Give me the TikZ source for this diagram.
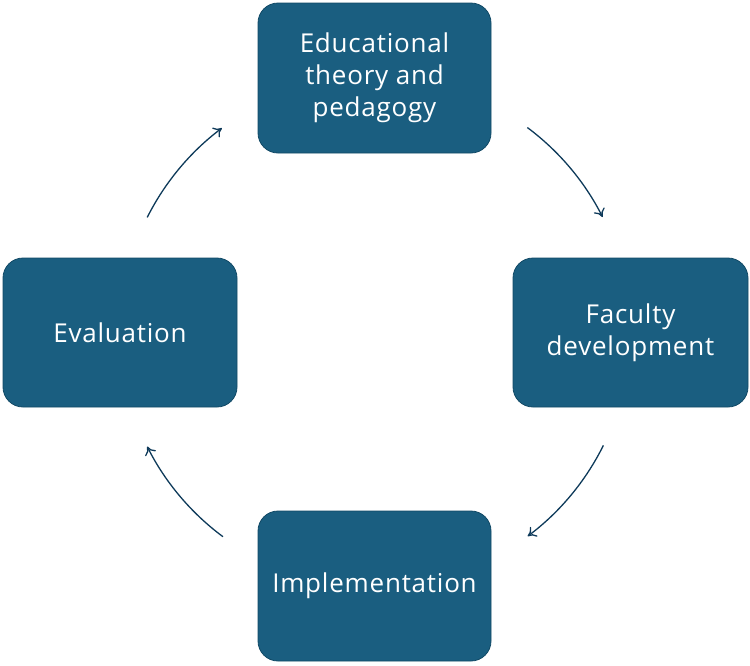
\documentclass[tikz,border=0pt]{standalone}
\usepackage{fontspec}
\setmainfont{Open Sans}[LetterSpace=3]
\usetikzlibrary{arrows.meta}
\definecolor{boxfill}{HTML}{1A5E80}
\definecolor{boxline}{HTML}{124A66}
\definecolor{arrowc}{HTML}{0E3A5A}
\begin{document}
\begin{tikzpicture}[x=1pt,y=-1pt,
  stagebox/.style={draw=boxline,line width=0.8pt,fill=boxfill,rounded corners=20pt,
    minimum width=233pt,minimum height=150pt,text=white,align=center,
    font=\fontsize{26}{32}\selectfont,inner sep=0pt},
  cyclearrow/.style={draw=arrowc,line width=1.3pt,-{To[length=8pt,width=12pt]}}]
\useasboundingbox (0,0) rectangle (750,665);
\node[stagebox] (theory) at (374.5,78) {Educational\\theory and\\pedagogy};
\node[stagebox,minimum width=235pt,minimum height=149pt] (faculty) at (630.5,332.5) {Faculty\\development};
\node[stagebox] (impl) at (374.5,586) {Implementation};
\node[stagebox,minimum width=234pt,minimum height=149pt] (eval) at (120,332.5) {Evaluation};
\coordinate (c) at (375,332);
\path (c) ++(53.3:255pt) coordinate (a1);
\path (c) ++(-26.4:255pt) coordinate (a2);
\path (c) ++(233.4:255pt) coordinate (a3);
\path (c) ++(153.3:255pt) coordinate (a4);
\draw[cyclearrow] (a1) arc[start angle=53.3,end angle=26.8,radius=255pt];
\draw[cyclearrow] (a2) arc[start angle=-26.4,end angle=-53.2,radius=255pt];
\draw[cyclearrow] (a3) arc[start angle=233.4,end angle=206.7,radius=255pt];
\draw[cyclearrow] (a4) arc[start angle=153.3,end angle=126.9,radius=255pt];
\end{tikzpicture}
\end{document}
